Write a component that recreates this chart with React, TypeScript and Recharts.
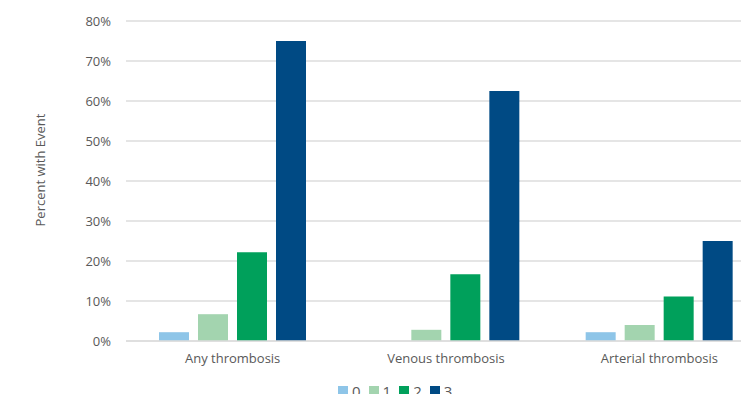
import React from 'react';
import { BarChart, Bar, XAxis, YAxis, CartesianGrid, Legend } from 'recharts';

const categories = ['Any thrombosis', 'Venous thrombosis', 'Arterial thrombosis'];
const series0 = [2.2, 0, 2.2];
const series1 = [6.7, 2.8, 4.0];
const series2 = [22.2, 16.7, 11.1];
const series3 = [75.0, 62.5, 25.0];
const yTicks = [0, 10, 20, 30, 40, 50, 60, 70, 80];

const seriesKeys = ['0', '1', '2', '3'];
const seriesColors = ['#8EC5E8', '#A3D4AF', '#00A05B', '#004A84'];

const chartData = categories.map((name, i) => ({
  name,
  '0': series0[i],
  '1': series1[i],
  '2': series2[i],
  '3': series3[i],
}));

const FONT = '"Open Sans", sans-serif';
const TEXT = '#595959';

// legend sits left of the plot centre in the original, so it is placed by hand
const LegendContent: React.FC<any> = () => (
  <div style={{ display: 'flex', alignItems: 'flex-start', height: 20, paddingTop: 10, paddingLeft: 330 }}>
    {seriesKeys.map((k, i) => (
      <div key={k} style={{ display: 'flex', alignItems: 'center', marginRight: 8 }}>
        <span style={{ width: 10, height: 10, background: seriesColors[i], display: 'inline-block', marginRight: 4 }} />
        <span style={{ fontFamily: FONT, fontSize: 15, color: TEXT, lineHeight: '14px' }}>{k}</span>
      </div>
    ))}
  </div>
);

const YLabel: React.FC<any> = () => (
  <text
    x={32}
    y={162}
    transform="rotate(-90, 32, 162)"
    textAnchor="middle"
    dominantBaseline="central"
    fill={TEXT}
    fontFamily={FONT}
    fontSize={13}
  >
    Percent with Event
  </text>
);

export default function App() {
  return (
    <div style={{ width: 741, height: 386, overflow: 'hidden' }}>
      <BarChart
        width={758}
        height={386}
        data={chartData}
        margin={{ top: 13, right: 0, bottom: 0, left: 0 }}
        barSize={30}
        barGap={9}
      >
        <CartesianGrid vertical={false} stroke="#DCDCDC" strokeWidth={1.3} />
        <XAxis
          dataKey="name"
          height={33}
          axisLine={{ stroke: '#DCDCDC', strokeWidth: 1.3 }}
          tickLine={false}
          tickSize={6}
          tickMargin={7}
          tick={{ fill: TEXT, fontFamily: FONT, fontSize: 13 }}
        />
        <YAxis
          width={118}
          domain={[0, 80]}
          ticks={yTicks}
          interval={0}
          tickFormatter={(v: number) => `${v}%`}
          axisLine={false}
          tickLine={false}
          tickSize={8}
          tickMargin={7}
          tick={{ fill: TEXT, fontFamily: FONT, fontSize: 13 }}
          label={{ content: <YLabel /> }}
        />
        <Legend
          verticalAlign="bottom"
          height={20}
          wrapperStyle={{ left: 0, width: 741 }}
          content={<LegendContent />}
        />
        {seriesKeys.map((k, i) => (
          <Bar key={k} dataKey={k} fill={seriesColors[i]} isAnimationActive={false} />
        ))}
      </BarChart>
    </div>
  );
}
